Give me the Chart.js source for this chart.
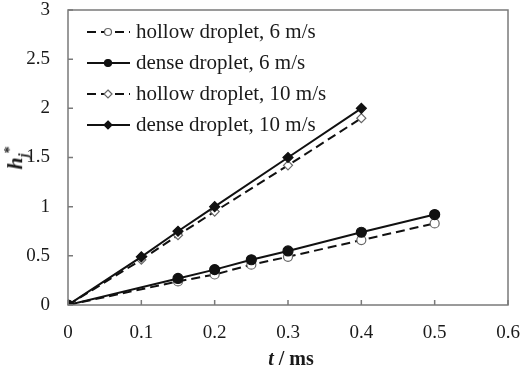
<!DOCTYPE html>
<html>
<head>
<meta charset="utf-8">
<script src="https://cdn.jsdelivr.net/npm/chart.js@4/dist/chart.umd.min.js"></script>
<style>
  body { margin: 0; background: #fff; }
  #wrap { position: relative; width: 526px; height: 367px; font-family: "Liberation Serif", serif; color: #1a1a1a; }
  #chart { position: absolute; left: 0; top: 0; }
  #legend { position: absolute; left: 86px; top: 16px; font-size: 21px; }
  .row { display: flex; align-items: center; height: 31px; }
  .row svg { margin-right: 5px; }
  #ytitle { position: absolute; left: 17px; top: 158px; transform: translate(-50%, -50%) rotate(-90deg); font-size: 22px; font-weight: bold; white-space: nowrap; }
  #xtitle { position: absolute; left: 291px; top: 358px; transform: translate(-50%, -50%); font-size: 20px; font-weight: bold; white-space: nowrap; }
</style>
</head>
<body>
<div id="wrap">
  <canvas id="chart" width="526" height="367"></canvas>
  <div id="legend"></div>
  <div id="ytitle"><i>h</i><sub style="font-size:14px"><i>j</i></sub><sup style="font-size:14px">*</sup></div>
  <div id="xtitle"><i>t</i> / ms</div>
</div>
<script>
// Data
const times6 = [0, 0.15, 0.2, 0.25, 0.3, 0.4, 0.5];
const hollow6 = [0, 0.24, 0.31, 0.41, 0.49, 0.66, 0.83];
const dense6 = [0, 0.27, 0.36, 0.46, 0.55, 0.74, 0.92];
const times10 = [0, 0.1, 0.15, 0.2, 0.3, 0.4];
const hollow10 = [0, 0.46, 0.71, 0.95, 1.42, 1.90];
const dense10 = [0, 0.49, 0.75, 1.0, 1.5, 2.0];
const seriesNames = ["hollow droplet, 6 m/s", "dense droplet, 6 m/s", "hollow droplet, 10 m/s", "dense droplet, 10 m/s"];
const xTicks = [0, 0.1, 0.2, 0.3, 0.4, 0.5, 0.6];
const yTicks = [0, 0.5, 1, 1.5, 2, 2.5, 3];

function pairs(xs, ys) {
    return xs.map((x, i) => ({x: x, y: ys[i]}));
}

const styles = [
    {dash: [9, 5], pointStyle: 'circle', radius: 4.5, fill: '#fff', stroke: '#666'},
    {dash: [], pointStyle: 'circle', radius: 5, fill: '#111', stroke: '#111'},
    {dash: [9, 5], pointStyle: 'rectRot', radius: 4.5, fill: '#fff', stroke: '#666'},
    {dash: [], pointStyle: 'rectRot', radius: 5, fill: '#111', stroke: '#111'}
];
const dataSets = [pairs(times6, hollow6), pairs(times6, dense6), pairs(times10, hollow10), pairs(times10, dense10)];

// Frame round the plot area and inward tick marks
const framePlugin = {
    id: 'frame',
    afterDatasetsDraw(chart) {
        const ctx = chart.ctx, a = chart.chartArea;
        ctx.save();
        ctx.strokeStyle = '#7a7a7a';
        ctx.lineWidth = 1.5;
        ctx.strokeRect(a.left, a.top, a.right - a.left, a.bottom - a.top);
        ctx.beginPath();
        for (let v of xTicks) {
            let px = chart.scales.x.getPixelForValue(v);
            ctx.moveTo(px, a.bottom);
            ctx.lineTo(px, a.bottom - 5);
        }
        for (let v of yTicks) {
            let py = chart.scales.y.getPixelForValue(v);
            ctx.moveTo(a.left, py);
            ctx.lineTo(a.left + 5, py);
        }
        ctx.stroke();
        ctx.restore();
    }
};

const tickFont = {family: 'Liberation Serif', size: 19};

const chart = new Chart(document.getElementById('chart'), {
    type: 'scatter',
    data: {
        datasets: dataSets.map((d, i) => ({
            label: seriesNames[i],
            data: d,
            showLine: true,
            borderColor: '#111',
            borderWidth: 2,
            borderDash: styles[i].dash,
            pointStyle: styles[i].pointStyle,
            pointRadius: styles[i].radius,
            pointBackgroundColor: styles[i].fill,
            pointBorderColor: styles[i].stroke,
            pointBorderWidth: 1.2
        })).reverse()
    },
    options: {
        responsive: false,
        animation: false,
        layout: {padding: {left: 0, right: 18, top: 10, bottom: 0}},
        plugins: {legend: {display: false}, tooltip: {enabled: false}},
        scales: {
            x: {
                type: 'linear', min: 0, max: 0.6,
                afterBuildTicks: s => { s.ticks = xTicks.map(v => ({value: v})); },
                afterFit: s => { s.height = 62; s.paddingLeft = 0; s.paddingRight = 0; },
                grid: {display: false},
                border: {display: false},
                ticks: {padding: 9, color: '#1a1a1a', font: tickFont, callback: v => String(v)}
            },
            y: {
                min: 0, max: 3,
                afterBuildTicks: s => { s.ticks = yTicks.map(v => ({value: v})); },
                afterFit: s => { s.width = 68; s.paddingTop = 0; s.paddingBottom = 0; },
                grid: {display: false},
                border: {display: false},
                ticks: {padding: 10, color: '#1a1a1a', font: tickFont, callback: v => String(v)}
            }
        }
    },
    plugins: [framePlugin]
});

// HTML legend with line + marker samples
let legendEl = document.getElementById('legend');
for (let i = 0; i < seriesNames.length; i++) {
    let st = styles[i];
    let row = document.createElement('div');
    row.className = 'row';
    let marker = st.pointStyle === 'circle'
        ? `<circle cx="22" cy="8" r="3.5" fill="${st.fill}" stroke="${st.stroke}" stroke-width="1.2"/>`
        : `<polygon points="22,4 26,8 22,12 18,8" fill="${st.fill}" stroke="${st.stroke}" stroke-width="1.2"/>`;
    let line = st.dash.length
        ? `<line x1="1" y1="8" x2="44" y2="8" stroke="#111" stroke-width="2" stroke-dasharray="9 5"/>`
        : `<line x1="1" y1="8" x2="44" y2="8" stroke="#111" stroke-width="2"/>`;
    row.innerHTML = `<svg width="45" height="16">${line}${marker}</svg><span>${seriesNames[i]}</span>`;
    legendEl.appendChild(row);
}
</script>
</body>
</html>
